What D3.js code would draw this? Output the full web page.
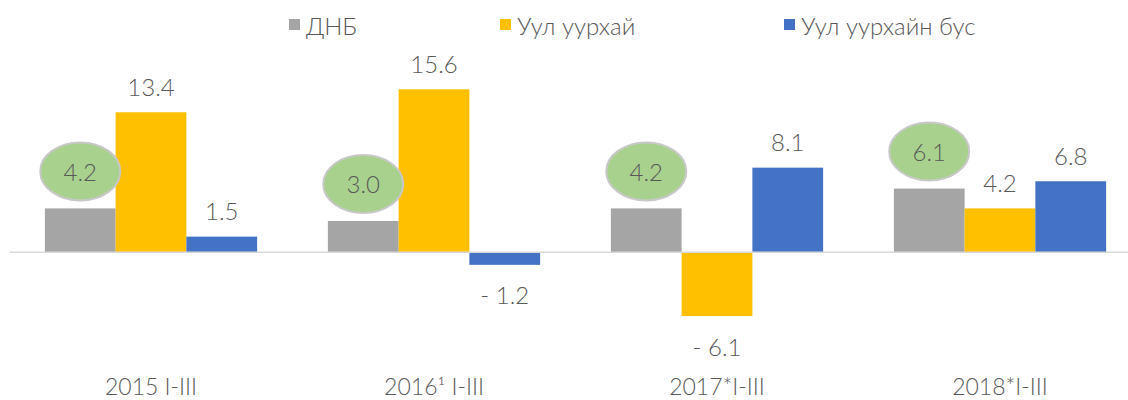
<!DOCTYPE html>
<html>
<head>
<meta charset="utf-8">
<script src="https://cdn.jsdelivr.net/npm/d3@7"></script>
<style>
  html, body { margin: 0; padding: 0; background: #fff; }
  text { font-family: Lato, "Open Sans", sans-serif; font-weight: 300; fill: #595959; }
</style>
</head>
<body>
<svg id="chart" width="1128" height="400"></svg>
<script>
const categories = ["2015 I-III", "2016¹ I-III", "2017*I-III", "2018*I-III"];
const seriesNames = ["ДНБ", "Уул уурхай", "Уул уурхайн бус"];
const gdp = [4.2, 3.0, 4.2, 6.1];
const mining = [13.4, 15.6, -6.1, 4.2];
const nonMining = [1.5, -1.2, 8.1, 6.8];
const colors = ["#a5a5a5", "#ffc000", "#4472c4"];

const series = [gdp, mining, nonMining];
const svg = d3.select("#chart");

const x0 = d3.scaleBand().domain(categories).range([9.5, 1141.5]).paddingInner(0.25).paddingOuter(0.125);
const x1 = d3.scaleBand().domain(d3.range(series.length)).range([0, x0.bandwidth()]);
const y = d3.scaleLinear().domain([-8, 17]).range([335.9, 74.65]);

const fmt = v => v < 0 ? "- " + d3.format(".1f")(-v) : d3.format(".1f")(v);

// bars
const groups = svg.selectAll("g.cat").data(categories).join("g")
  .attr("class", "cat")
  .attr("transform", d => `translate(${x0(d)},0)`);

groups.each(function(cat, ci) {
  const g = d3.select(this);
  series.forEach((s, si) => {
    const v = s[ci];
    g.append("rect")
      .attr("x", x1(si))
      .attr("width", x1.bandwidth())
      .attr("y", Math.min(y(v), y(0)))
      .attr("height", Math.abs(y(v) - y(0)))
      .attr("fill", colors[si]);
  });
});

// zero line
svg.append("line")
  .attr("x1", 10).attr("x2", 1128)
  .attr("y1", y(0)).attr("y2", y(0))
  .attr("stroke", "#d9d9d9").attr("stroke-width", 1.5);

// labels
groups.each(function(cat, ci) {
  const g = d3.select(this);
  series.forEach((s, si) => {
    const v = s[ci];
    const cx = x1(si) + x1.bandwidth() / 2;
    if (si === 0) {
      const cy = y(v) - 37;
      g.append("ellipse")
        .attr("cx", cx).attr("cy", cy)
        .attr("rx", 40).attr("ry", 29)
        .attr("fill", "#a9d18e")
        .attr("stroke", "#c8c8c8").attr("stroke-width", 2);
      g.append("text")
        .attr("x", cx).attr("y", cy)
        .attr("text-anchor", "middle")
        .attr("dominant-baseline", "central")
        .attr("font-size", 24)
        .text(fmt(v));
    } else {
      const ly = v >= 0 ? y(v) - 26 : y(v) + 30;
      g.append("text")
        .attr("x", cx).attr("y", ly)
        .attr("text-anchor", "middle")
        .attr("dominant-baseline", "central")
        .attr("font-size", 24)
        .text(fmt(v));
    }
  });
});

// category labels
svg.selectAll("text.cat").data(categories).join("text")
  .attr("class", "cat")
  .attr("x", d => x0(d) + x0.bandwidth() / 2)
  .attr("y", 386)
  .attr("text-anchor", "middle")
  .attr("dominant-baseline", "central")
  .attr("font-size", 23)
  .text(d => d);

// legend
const legendX = [289, 500, 784];
const leg = svg.selectAll("g.leg").data(seriesNames).join("g")
  .attr("class", "leg")
  .attr("transform", (d, i) => `translate(${legendX[i]},25)`);
leg.append("rect").attr("x", 0).attr("y", -6).attr("width", 11).attr("height", 11)
  .attr("fill", (d, i) => colors[i]);
leg.append("text").attr("x", 17).attr("y", 0)
  .attr("dominant-baseline", "central")
  .attr("font-size", 24)
  .text(d => d);
</script>
</body>
</html>
